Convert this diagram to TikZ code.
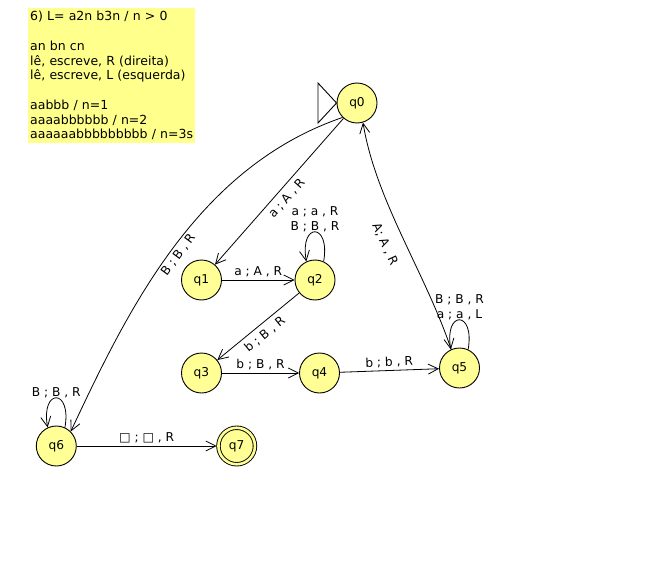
\documentclass[tikz,border=0pt]{standalone}
\usepackage{fontspec}
\setmainfont{DejaVu Sans}
\usetikzlibrary{arrows.meta}
\definecolor{statefill}{RGB}{255,255,150}
\definecolor{notefill}{RGB}{255,255,140}

\begin{document}
\begin{tikzpicture}[x=1pt,y=-1pt,
  font=\fontsize{12.2}{15}\selectfont,
  state/.style={circle, draw, fill=statefill, minimum size=40pt, inner sep=0pt, line width=0.9pt},
  accept/.style={state, minimum size=36.5pt, double=statefill, double distance=2.6pt, outer sep=1.8pt},
  trans/.style={draw, line width=0.8pt, -{Straight Barb[length=10pt,width=10pt]}},
  lbl/.style={inner sep=2.5pt, font=\fontsize{12.2}{15}\selectfont},
  looplbl/.style={lbl, pos=0.5, anchor=south, yshift=-2.5pt, align=center}]

\useasboundingbox (0,0) rectangle (656,575);

% note box
\node (note) [fill=notefill, anchor=north west, minimum width=167pt, minimum height=135pt,
  inner xsep=2pt, inner ysep=0pt, text width=163pt, align=left,
  font=\fontsize{12.5}{14.75}\selectfont] at (28,8)
  {6) L= a2n b3n / n > 0\\[14.75pt]
   an bn cn\\
   lê, escreve, R (direita)\\
   lê, escreve, L (esquerda)\\[14.75pt]
   aabbb / n=1\\
   aaaabbbbbb / n=2\\
   aaaaaabbbbbbbbb / n=3s\\[-3pt]};

% states
\node[state]  (q0) at (357,103) {q0};
\node[state]  (q1) at (201.5,280) {q1};
\node[state]  (q2) at (315,280) {q2};
\node[state]  (q3) at (201.5,373) {q3};
\node[state]  (q4) at (319.5,373) {q4};
\node[state]  (q5) at (459.5,368) {q5};
\node[state]  (q6) at (56.3,446) {q6};
\node[accept] (q7) at (236.7,446) {q7};

% start marker
\draw[line width=0.9pt] (318,83) -- (318,123) -- (q0.west) -- cycle;

% transitions
\draw[trans] (q0) -- (q1) node[lbl, pos=0.5, sloped, below=2pt] {a ; A , R};
\draw[trans] (q1) -- (q2) node[lbl, midway, above] {a ; A , R};
\draw[trans] (q2) -- (q3) node[lbl, midway, sloped, below=2pt] {b ; B , R};
\draw[trans] (q3) -- (q4) node[lbl, midway, above] {b ; B , R};
\draw[trans] (q4) -- (q5) node[lbl, midway, sloped, above] {b ; b , R};
\draw[trans] (q6) -- (q7) node[lbl, midway, above] {□ ; □ , R};

\draw[trans] (q0.225) .. controls (198,167) and (129,307) .. (q6.45)
  node[lbl, pos=0.51, sloped, below] {B ; B , R};
\draw[trans] (q5.114) .. controls (425,272) and (376,201) .. (q0.-73)
  node[lbl, pos=0.5, sloped, below=11pt] {A; A , R};

% self loops
\draw[trans] (q2.65) .. controls +(80:40pt) and +(100:40pt) .. (q2.115)
  node[looplbl] {a ; a , R\\B ; B , R};
\draw[trans] (q5.65) .. controls +(80:40pt) and +(100:40pt) .. (q5.115)
  node[looplbl] {B ; B , R\\a ; a , L};
\draw[trans] (q6.65) .. controls +(80:40pt) and +(100:40pt) .. (q6.115)
  node[looplbl] {B ; B , R};

\end{tikzpicture}
\end{document}
